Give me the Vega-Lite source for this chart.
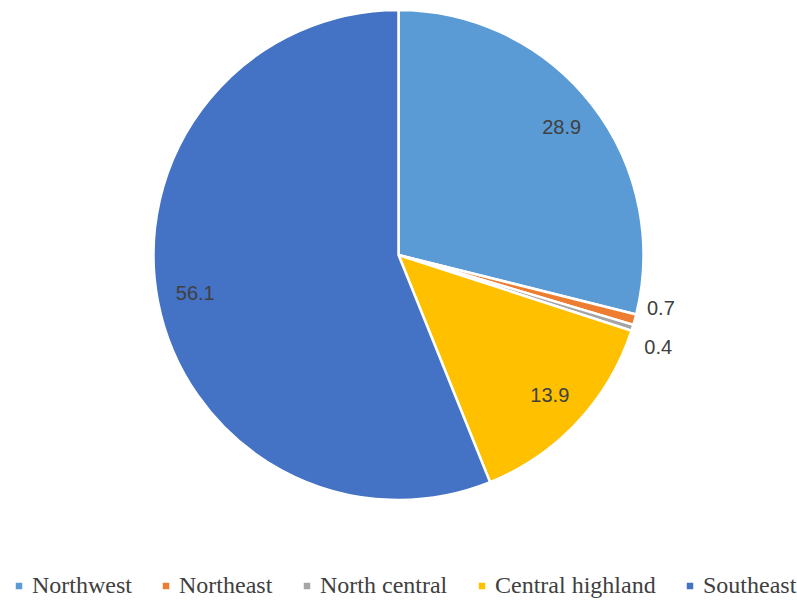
{
  "$schema": "https://vega.github.io/schema/vega-lite/v6.json",
  "width": 797,
  "height": 510,
  "padding": 0,
  "autosize": {"type": "pad"},
  "background": "white",
  "config": {"view": {"stroke": null}},
  "data": {
    "values": [
      {"region": "Northwest", "value": 28.9, "order": 1},
      {"region": "Northeast", "value": 0.7, "order": 2},
      {"region": "North central", "value": 0.4, "order": 3},
      {"region": "Central highland", "value": 13.9, "order": 4},
      {"region": "Southeast", "value": 56.1, "order": 5}
    ]
  },
  "encoding": {
    "theta": {"field": "value", "type": "quantitative", "stack": true},
    "order": {"field": "order", "type": "quantitative"},
    "color": {
      "field": "region",
      "type": "nominal",
      "sort": ["Northwest", "Northeast", "North central", "Central highland", "Southeast"],
      "scale": {
        "domain": ["Northwest", "Northeast", "North central", "Central highland", "Southeast"],
        "range": ["#5B9BD5", "#ED7D31", "#A5A5A5", "#FFC000", "#4472C4"]
      },
      "legend": {
        "title": null,
        "orient": "none",
        "direction": "horizontal",
        "legendX": 7,
        "legendY": 574,
        "symbolType": "square",
        "symbolSize": 42,
        "symbolStrokeWidth": 0,
        "labelFont": "Liberation Serif",
        "labelFontSize": 24,
        "labelColor": "#404040",
        "labelOffset": 1,
        "columnPadding": 22,
        "labelLimit": 300
      }
    }
  },
  "layer": [
    {
      "mark": {"type": "arc", "outerRadius": 245, "stroke": "white", "strokeWidth": 2.5}
    },
    {
      "mark": {"type": "text", "radius": 207, "font": "Liberation Sans", "fontSize": 20},
      "encoding": {
        "text": {"field": "value", "type": "quantitative", "format": ".1f"},
        "color": {"value": "#404040"},
        "opacity": {"condition": {"test": "datum.value > 5", "value": 1}, "value": 0}
      }
    },
    {
      "mark": {"type": "text", "radius": 272, "dy": -18, "font": "Liberation Sans", "fontSize": 20},
      "encoding": {
        "text": {"field": "value", "type": "quantitative", "format": ".1f"},
        "color": {"value": "#404040"},
        "opacity": {"condition": {"test": "datum.region === 'Northeast'", "value": 1}, "value": 0}
      }
    },
    {
      "mark": {"type": "text", "radius": 272, "dy": 12, "font": "Liberation Sans", "fontSize": 20},
      "encoding": {
        "text": {"field": "value", "type": "quantitative", "format": ".1f"},
        "color": {"value": "#404040"},
        "opacity": {"condition": {"test": "datum.region === 'North central'", "value": 1}, "value": 0}
      }
    }
  ]
}
